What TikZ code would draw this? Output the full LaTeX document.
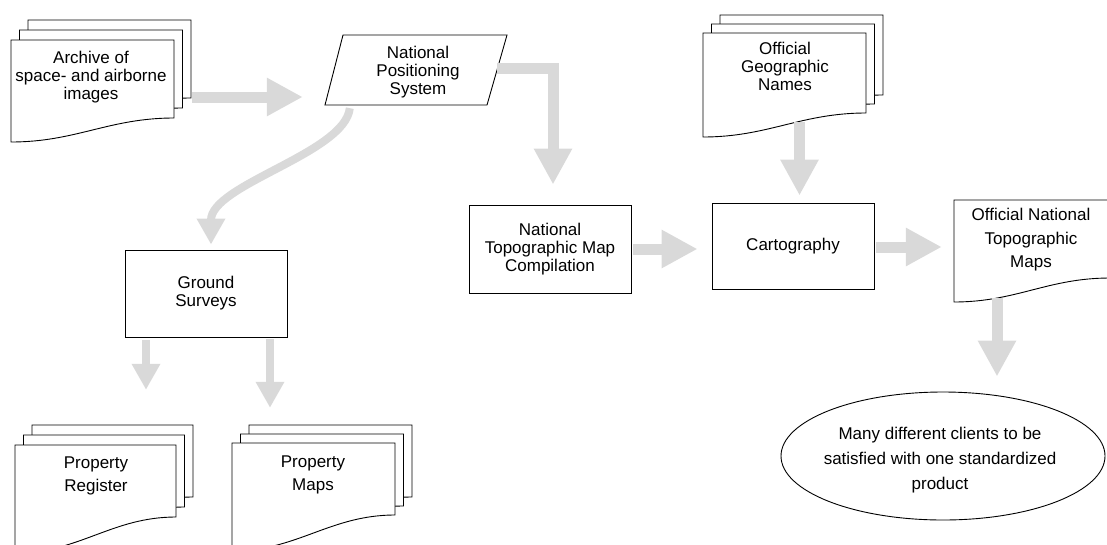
\documentclass[tikz,border=0pt]{standalone}
\usepackage{fontspec}
\setmainfont{Liberation Sans}
\usetikzlibrary{arrows.meta,shapes.geometric,calc}
\newcommand\labelfont{\fontsize{17}{18}\selectfont}
\newcommand\widefont{\fontsize{17}{23.5}\selectfont}
\tikzset{
  outline/.style={draw=black, line width=0.9pt},
  sheet/.style={outline, fill=white},
  proc/.style={outline, rectangle, minimum width=162pt, minimum height=87pt, inner sep=0pt, align=center, font=\labelfont},
  hold/.style={rectangle, inner sep=0pt},
  txt/.style={align=center, inner sep=0pt, font=\labelfont},
  flow/.style={draw=black!15, line width=11pt, -{Triangle[width=36pt,length=36pt]}},
  smallflow/.style={draw=black!15, line width=8pt, -{Triangle[width=27pt,length=26pt]}},
}
% top-left x, top-left y, width, left height, rise of right end
\newcommand\docsheet[5]{\draw[sheet] (#1,#2) -- ++(#3,0) -- ++(0,#4-#5) .. controls +(-0.4*#3,0) and +(0.4*#3,0) .. (#1,#2+#4) -- cycle;}
\begin{document}
\begin{tikzpicture}[x=1pt,y=-1pt]
\useasboundingbox (0,0) rectangle (1107,544);
% Archive
\docsheet{28}{20}{163}{102}{24}
\docsheet{19.5}{30}{163}{102}{24}
\docsheet{11}{40}{163}{102}{24}
\node[hold, minimum width=163pt, minimum height=102pt] (arch) at (92.5,91) {};
\node[txt] (archT) at (91,77) {Archive of\\space- and airborne\\images};
% National Positioning System
\draw[outline] (343,35) -- (507,35) -- (487,105) -- (325,105) -- cycle;
\node[hold, minimum width=182pt, minimum height=70pt] (nps) at (416,70) {};
\node[txt] (npsT) at (418,72) {National\\Positioning\\System};
% Official Geographic Names
\docsheet{720}{15}{163}{104}{24}
\docsheet{711.5}{24}{163}{104}{24}
\docsheet{703}{33}{163}{104}{24}
\node[hold, minimum width=163pt, minimum height=104pt] (ogn) at (784.5,85) {};
\node[txt] (ognT) at (785,66) {Official\\Geographic\\Names};
% Process boxes
\node[proc, minimum height=88pt] (ntmc) at (550,249) {National\\Topographic Map\\Compilation};
\node[proc, minimum height=86pt] (carto) at (793,246) {Cartography};
\node[proc] (ground) at (206,293.5) {Ground\\Surveys};
% Official National Topographic Maps
\docsheet{954}{200}{156}{102}{24}
\node[hold, minimum width=156pt, minimum height=102pt] (ontm) at (1032,251) {};
\node[txt, font=\widefont] (ontmT) at (1031,240) {Official National\\Topographic\\Maps};
% Property Register
\docsheet{32}{425}{161}{108}{36}
\docsheet{23.5}{435}{161}{108}{36}
\docsheet{15}{445}{161}{108}{36}
\node[hold, minimum width=161pt, minimum height=108pt] (preg) at (95.5,499) {};
\node[txt, font=\widefont] (pregT) at (96,476) {Property\\Register};
% Property Maps
\docsheet{249}{425}{163}{108}{36}
\docsheet{240.5}{434}{163}{108}{36}
\docsheet{232}{443}{163}{108}{36}
\node[hold, minimum width=163pt, minimum height=108pt] (pmap) at (313.5,497) {};
\node[txt, font=\widefont] (pmapT) at (313,475) {Property\\Maps};
% Clients
\node[outline, ellipse, minimum width=324pt, minimum height=128pt, inner sep=0pt] (clients) at (943,456) {};
\node[txt, font=\fontsize{17}{25}\selectfont] (clientsT) at (940,460) {Many different clients to be\\satisfied with one standardized\\product};
% Connectors
\draw[flow] ($(arch.east)+(18,6)$) -- ($(nps.west)+(-22,27)$);
\draw[smallflow] ($(nps.south west)+(25,3)$) .. controls +(-5,45) and +(0,-60) .. ($(ground.north)+(5,-5)$);
\draw[flow] ($(nps.east)+(-10,-2)$) -| ($(ntmc.north)+(3,-20)$);
\draw[flow] ($(ntmc.east)+(2,0)$) -- ($(carto.west |- ntmc.east)+(-14,0)$);
\draw[flow] ($(ogn.south)+(15,-15)$) -- ($(carto.north)+(6.5,-7)$);
\draw[flow] ($(carto.east)+(2,1)$) -- ($(ontm.west)+(-12,-4)$);
\draw[flow] ($(ontm.south)+(-35,-4)$) -- ($(clients.north)+(54,-15)$);
\draw[smallflow] ($(ground.south)+(-60,3)$) -- ($(preg.north)+(50.5,-55)$);
\draw[smallflow] ($(ground.south)+(64,2)$) -- ($(pmap.north)+(-43.5,-35)$);
\end{tikzpicture}
\end{document}
